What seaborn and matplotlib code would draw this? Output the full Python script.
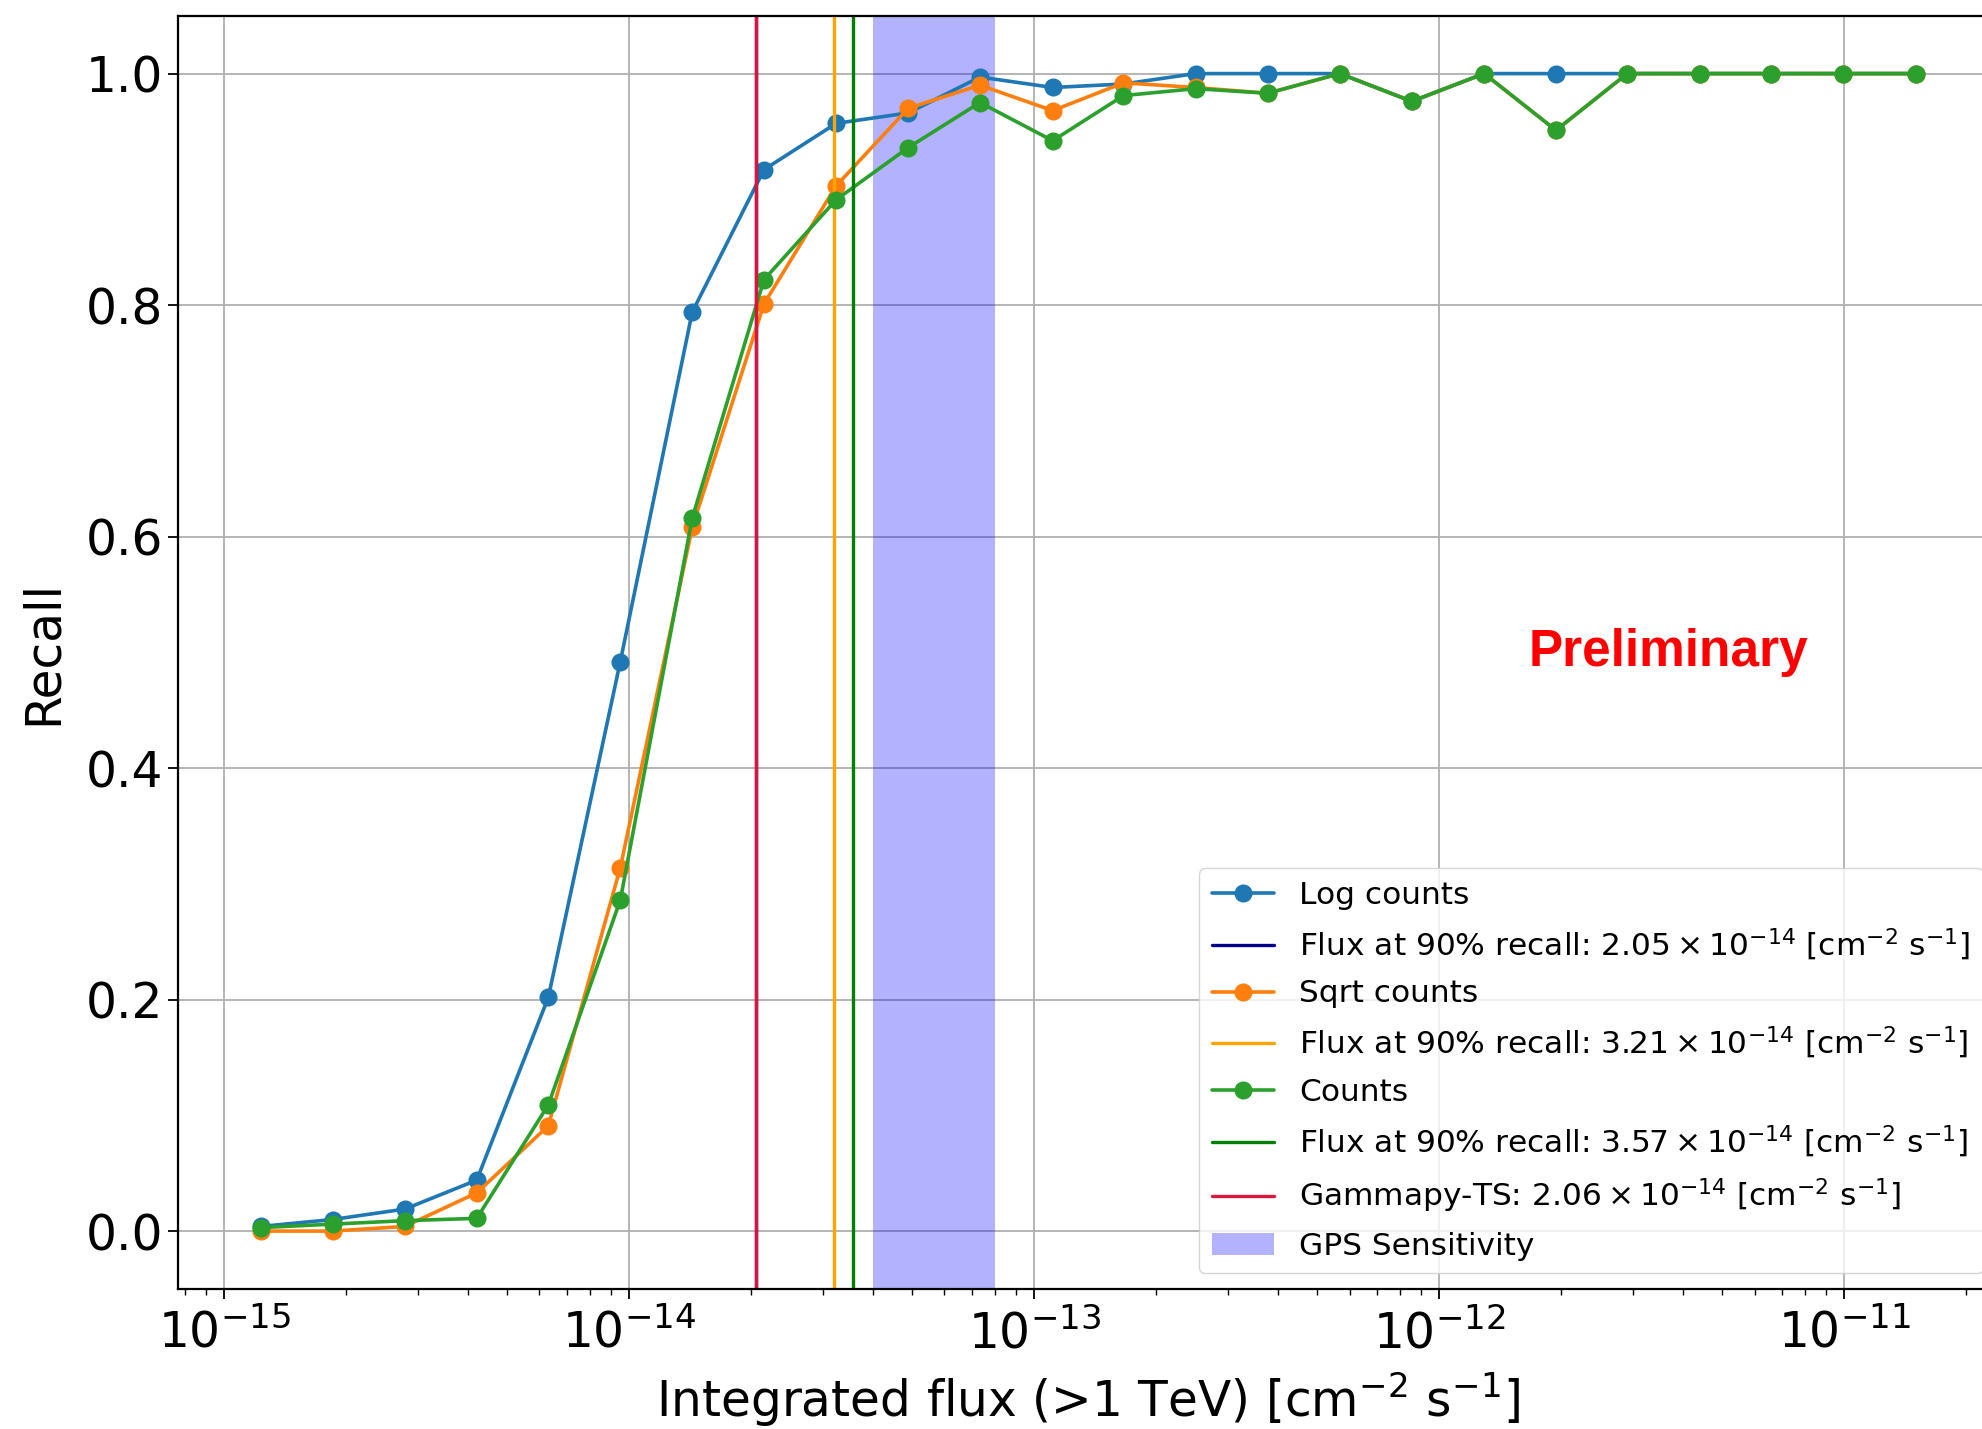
import matplotlib
matplotlib.use("Agg")
import matplotlib.pyplot as plt
import seaborn as sns
import pandas as pd

# Integrated flux bin centres (>1 TeV) [cm^-2 s^-1]
flux = [1.23e-15, 1.85e-15, 2.79e-15, 4.20e-15, 6.31e-15, 9.50e-15,
        1.43e-14, 2.15e-14, 3.24e-14, 4.88e-14, 7.34e-14, 1.11e-13,
        1.66e-13, 2.50e-13, 3.77e-13, 5.68e-13, 8.55e-13, 1.29e-12,
        1.94e-12, 2.91e-12, 4.39e-12, 6.60e-12, 9.94e-12, 1.50e-11]

# Recall per flux bin for each input scaling
recall_log = [0.004, 0.010, 0.019, 0.044, 0.202, 0.492, 0.794, 0.917,
              0.957, 0.966, 0.997, 0.988, 0.991, 1.000, 1.000, 1.000,
              0.976, 1.000, 1.000, 1.000, 1.000, 1.000, 1.000, 1.000]
recall_sqrt = [0.000, 0.000, 0.004, 0.033, 0.091, 0.314, 0.608, 0.801,
               0.903, 0.970, 0.990, 0.968, 0.992, 0.988, 0.983, 1.000,
               0.976, 1.000, 0.951, 1.000, 1.000, 1.000, 1.000, 1.000]
recall_counts = [0.003, 0.006, 0.009, 0.011, 0.109, 0.286, 0.616, 0.822,
                 0.891, 0.936, 0.975, 0.942, 0.981, 0.987, 0.983, 1.000,
                 0.976, 1.000, 0.951, 1.000, 1.000, 1.000, 1.000, 1.000]

# Flux at which each method reaches 90% recall, and the Gammapy-TS reference
flux90_log = 2.05e-14
flux90_sqrt = 3.21e-14
flux90_counts = 3.57e-14
flux_gammapy = 2.06e-14

# GPS sensitivity band
gps_band = (4.0e-14, 8.0e-14)

df = pd.DataFrame({"flux": flux, "log": recall_log,
                   "sqrt": recall_sqrt, "counts": recall_counts})

sns.set_style("ticks")
plt.rcParams["font.family"] = ["DejaVu Sans"]
plt.rcParams["mathtext.fontset"] = "dejavusans"
plt.rcParams["text.color"] = "black"
plt.rcParams["axes.labelcolor"] = "black"
plt.rcParams["xtick.color"] = "black"
plt.rcParams["ytick.color"] = "black"

fig = plt.figure(figsize=(19.82, 14.29), dpi=100)
ax = fig.add_axes([0.0898, 0.098, 0.9185, 0.891])

line_kw = dict(marker="o", markersize=13, linewidth=2.6,
               markeredgewidth=0, ax=ax)
vkw = dict(linewidth=2.4)


def flux_label(v):
    m, e = f"{v:.2e}".split("e")
    return (r"Flux at 90% recall: $" + m + r"\times10^{" + str(int(e))
            + r"}$ [cm$^{-2}$ s$^{-1}$]")


sns.lineplot(data=df, x="flux", y="log", color="#1f77b4",
             label="Log counts", **line_kw)
ax.axvline(flux90_log, color="darkblue", label=flux_label(flux90_log), **vkw)
sns.lineplot(data=df, x="flux", y="sqrt", color="#ff7f0e",
             label="Sqrt counts", **line_kw)
ax.axvline(flux90_sqrt, color="orange", label=flux_label(flux90_sqrt), **vkw)
sns.lineplot(data=df, x="flux", y="counts", color="#2ca02c",
             label="Counts", **line_kw)
ax.axvline(flux90_counts, color="green", label=flux_label(flux90_counts), **vkw)
ax.axvline(flux_gammapy, color="crimson",
           label=r"Gammapy-TS: $2.06\times10^{-14}$ [cm$^{-2}$ s$^{-1}$]", **vkw)
ax.axvspan(*gps_band, color="blue", alpha=0.3, linewidth=0,
           label="GPS Sensitivity")

ax.set_xscale("log")
ax.set_ylim(-0.05, 1.05)
ax.set_yticks([0.0, 0.2, 0.4, 0.6, 0.8, 1.0])

ax.grid(True, which="major", color="#b0b0b0", linewidth=1.3)
for s in ax.spines.values():
    s.set_linewidth(1.6)
    s.set_color("black")

ax.tick_params(axis="both", which="major", labelsize=35, length=7,
               width=1.3, direction="out", color="black")
ax.tick_params(axis="x", which="minor", length=4, width=1.0,
               direction="out", color="black")
ax.tick_params(axis="x", which="major", pad=8)

ax.set_xlabel(r"Integrated flux (>1 TeV) [cm$^{-2}$ s$^{-1}$]",
              fontsize=35, labelpad=8)
ax.set_ylabel("Recall", fontsize=35, labelpad=14)

ax.text(3.67e-12, 0.488, "Preliminary", color="red", fontsize=37,
        fontweight="bold", family=["Liberation Sans", "DejaVu Sans"],
        ha="center", va="baseline")

leg = ax.legend(loc="lower right", fontsize=22.5, framealpha=0.8,
                edgecolor="#cccccc", fancybox=True, labelspacing=0.535,
                borderaxespad=0.5)

fig.savefig("out.png", dpi=100)
